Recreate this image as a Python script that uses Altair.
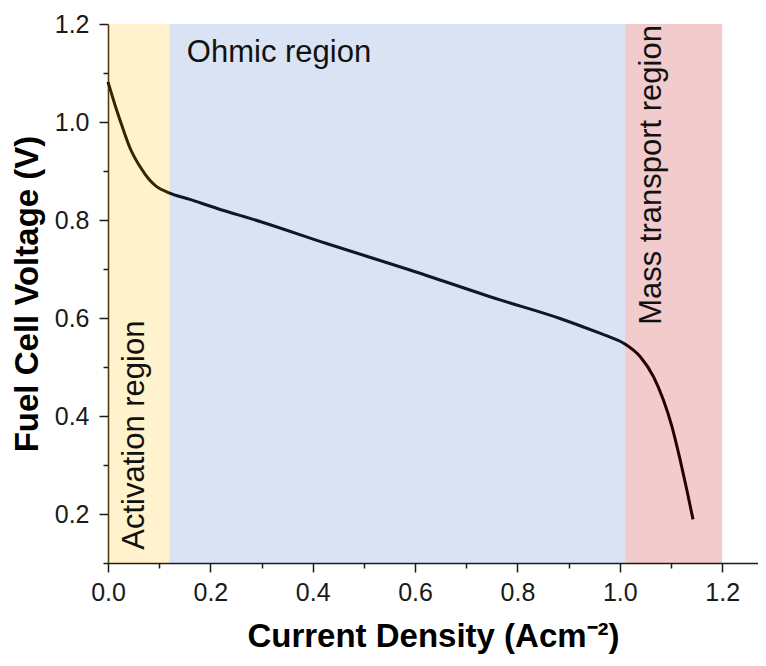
import altair as alt
import pandas as pd

# Polarisation curve
current = [0.0, 0.017, 0.030, 0.043, 0.0625, 0.080, 0.095, 0.118, 0.160, 0.212, 0.297,
           0.427, 0.590, 0.766, 0.883, 0.961, 0.981, 1.010, 1.040, 1.066, 1.085, 1.102,
           1.118, 1.131, 1.143]
voltage = [1.082, 1.024, 0.984, 0.947, 0.909, 0.883, 0.868, 0.856, 0.842, 0.824, 0.797,
           0.752, 0.698, 0.637, 0.599, 0.569, 0.561, 0.547, 0.521, 0.480, 0.433, 0.378,
           0.310, 0.249, 0.189]

# Shaded regions
region_names = ["Activation", "Ohmic", "Mass transport"]
region_start = [0.0, 0.12, 1.01]
region_end = [0.12, 1.01, 1.2]
region_colors = ["#FFC000", "#4472C4", "#C00000"]

# Region labels
labels = ["Activation region", "Ohmic region", "Mass transport region"]
label_x = [0.070, 0.154, 1.081]
label_y = [0.127, 1.122, 0.586]
label_angle = [270, 0, 270]

x_ticks = [round(i * 0.1, 1) for i in range(0, 13)]
y_ticks = [round(i * 0.1, 1) for i in range(1, 13)]

curve_df = pd.DataFrame({"j": current, "v": voltage})
region_df = pd.DataFrame({
    "name": region_names, "x0": region_start, "x1": region_end,
    "y0": [0.1] * 3, "y1": [1.2] * 3,
})
label_df = pd.DataFrame({"text": labels, "x": label_x, "y": label_y, "angle": label_angle})

FONT = "Liberation Sans"
major = "round(datum.value*10) % 2 === 0"
label_expr = f"{major} ? format(datum.value, '.1f') : ''"

x_scale = alt.Scale(domain=[0, 1.27], nice=False, zero=False)
y_scale = alt.Scale(domain=[0.1, 1.2], nice=False, zero=False)

x_axis = alt.Axis(
    title="Current Density (Acm\u207b\u00b2)", values=x_ticks, labelExpr=label_expr,
    tickSize={"condition": {"test": major, "value": 9}, "value": 5},
    grid=False, labelFont=FONT, labelFontSize=25, labelColor="#1a1a1a", labelPadding=8,
    titleFont=FONT, titleFontSize=33, titleFontWeight="bold", titleColor="#000000",
    titlePadding=15, domainColor="#1a1a1a", domainWidth=1.5, tickColor="#1a1a1a",
    tickWidth=1.5, labelFlush=False, labelOverlap=False,
)
y_axis = alt.Axis(
    title="Fuel Cell Voltage (V)", values=y_ticks, labelExpr=label_expr,
    tickSize={"condition": {"test": major, "value": 9}, "value": 5},
    grid=False, labelFont=FONT, labelFontSize=25, labelColor="#1a1a1a", labelPadding=10,
    titleFont=FONT, titleFontSize=33, titleFontWeight="bold", titleColor="#000000",
    titlePadding=10, domainColor="#1a1a1a", domainWidth=1.5, tickColor="#1a1a1a",
    tickWidth=1.5, labelFlush=False, labelOverlap=False,
)

line = alt.Chart(curve_df).mark_line(color="#000000", strokeWidth=3, interpolate="monotone").encode(
    x=alt.X("j:Q", scale=x_scale, axis=x_axis),
    y=alt.Y("v:Q", scale=y_scale, axis=y_axis),
)

rects = alt.Chart(region_df).mark_rect(opacity=0.2).encode(
    x=alt.X("x0:Q", scale=x_scale),
    x2="x1:Q",
    y=alt.Y("y0:Q", scale=y_scale),
    y2="y1:Q",
    color=alt.Color("name:N", scale=alt.Scale(domain=region_names, range=region_colors), legend=None),
)

texts = alt.Chart(label_df).mark_text(
    font=FONT, fontSize=31, align="left", baseline="alphabetic", color="#111111"
).encode(
    x=alt.X("x:Q", scale=x_scale),
    y=alt.Y("y:Q", scale=y_scale),
    text="text:N",
    angle=alt.Angle("angle:Q", scale=None),
)

chart = alt.layer(line, rects, texts).properties(
    width=650, height=539, autosize="none",
    padding={"left": 100, "top": 16, "right": 0, "bottom": 95},
    background="#ffffff",
).configure_view(stroke=None)

chart.save("out.html", embed_options={"renderer": "svg", "actions": False})
